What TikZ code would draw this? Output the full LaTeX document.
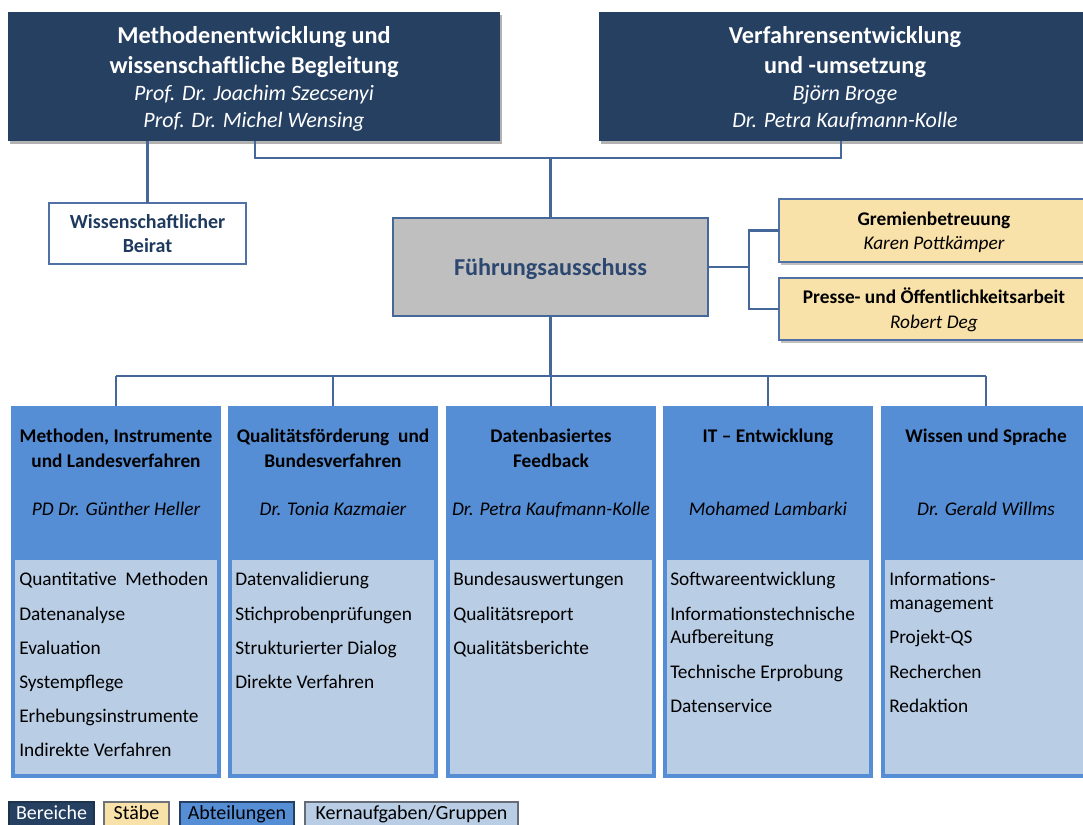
\documentclass[tikz,border=0pt]{standalone}
\usepackage{fontspec}
\setmainfont{Carlito}
\usetikzlibrary{shadows,fit}
\definecolor{navy}{HTML}{264062}
\definecolor{staffy}{HTML}{F9E2A9}
\definecolor{deptblue}{HTML}{558ED5}
\definecolor{listblue}{HTML}{B9CDE5}
\definecolor{fagray}{HTML}{BFBFBF}
\definecolor{linec}{HTML}{46679A}
\definecolor{fatext}{HTML}{2C4770}
\definecolor{beiratc}{HTML}{1F3A5F}
\definecolor{staffb}{HTML}{4F71A6}
\begin{document}
\begin{tikzpicture}[x=0.75pt,y=-0.75pt,
  boxbase/.style={inner sep=0pt, outer sep=0pt, rectangle},
  area/.style={boxbase, fill=navy, drop shadow={shadow xshift=1.5pt, shadow yshift=-2.5pt, fill=black, opacity=0.3}},
  staffbox/.style={boxbase, fill=staffy, draw=staffb, line width=1.1pt, drop shadow={shadow xshift=1.5pt, shadow yshift=-2.5pt, fill=black, opacity=0.25}},
  beiratbox/.style={boxbase, fill=white, draw=staffb, line width=1pt},
  fabox/.style={boxbase, fill=fagray, draw=linec, line width=2.2pt},
  deptbox/.style={boxbase, fill=deptblue},
  listbox/.style={boxbase, fill=listblue},
  conn/.style={draw=linec, line width=1.6pt},
  txt/.style={anchor=base, inner sep=0pt},
  ltxt/.style={anchor=base west, inner sep=0pt, font=\fontsize{14.5}{17}\selectfont},
  ttl/.style={txt, text=white, font=\fontsize{18.2}{22}\selectfont\bfseries},
  tnm/.style={txt, text=white, font=\fontsize{16.5}{20}\selectfont\itshape},
  sttl/.style={txt, font=\fontsize{14.5}{17}\selectfont\bfseries},
  snm/.style={txt, font=\fontsize{14.5}{17}\selectfont\itshape},
  legbox/.style={boxbase, line width=0.8pt},
  legtxt/.style={txt, font=\fontsize{15}{18}\selectfont}
]
\useasboundingbox (0,0) rectangle (1083,825);
\clip (0,0) rectangle (1083,825);

% ---- top areas
\node[area, fit={(8,12)(500,141)}] (mw) {};
\node[ttl] (mwt1) at (254,43) {Methodenentwicklung und};
\node[ttl] (mwt2) at (254,73) {wissenschaftliche Begleitung};
\node[tnm] (mwn1) at (254,100) {Prof. Dr. Joachim Szecsenyi};
\node[tnm] (mwn2) at (254,127) {Prof. Dr. Michel Wensing};

\node[area, fit={(599,12)(1091,141)}] (ve) {};
\node[ttl] (vet1) at (845,43) {Verfahrensentwicklung};
\node[ttl] (vet2) at (845,73) {und -umsetzung};
\node[tnm] (ven1) at (845,100) {Björn Broge};
\node[tnm] (ven2) at (845,127) {Dr. Petra Kaufmann-Kolle};

% ---- Beirat
\node[beiratbox, fit={(49,203)(246,264)}] (beirat) {};
\node[txt, text=beiratc, font=\fontsize{15}{18}\selectfont\bfseries] (bt1) at (147.5,228) {Wissenschaftlicher};
\node[txt, text=beiratc, font=\fontsize{15}{18}\selectfont\bfseries] (bt2) at (147.5,252) {Beirat};

% ---- Fuehrungsausschuss
\node[fabox, fit={(393,218)(708,316)}] (fa) {};
\node[txt, text=fatext, font=\fontsize{18.2}{22}\selectfont\bfseries] (fat) at (550.5,275) {Führungsausschuss};

% ---- Staff
\node[staffbox, fit={(779,199)(1089,262)}] (gr) {};
\node[sttl] (grt) at (934,225) {Gremienbetreuung};
\node[snm] (grn) at (934,249) {Karen Pottkämper};
\node[staffbox, fit={(779,278)(1089,340)}] (pr) {};
\node[sttl] (prt) at (934,303) {Presse- und Öffentlichkeitsarbeit};
\node[snm] (prn) at (934,328) {Robert Deg};

% ---- Departments
\node[deptbox, fit={(11,406)(221,778)}] (d1) {};
\node[listbox, fit={(15,560)(217,774)}] (l1) {};
\node[deptbox, fit={(228,406)(438,778)}] (d2) {};
\node[listbox, fit={(232,560)(434,774)}] (l2) {};
\node[deptbox, fit={(446,406)(656,778)}] (d3) {};
\node[listbox, fit={(450,560)(652,774)}] (l3) {};
\node[deptbox, fit={(663,406)(873,778)}] (d4) {};
\node[listbox, fit={(667,560)(869,774)}] (l4) {};
\node[deptbox, fit={(881,406)(1091,778)}] (d5) {};
\node[listbox, fit={(885,560)(1087,774)}] (l5) {};

% headers
\node[sttl] (h1a) at (116,442) {Methoden, Instrumente};
\node[sttl] (h1b) at (116,467) {und Landesverfahren};
\node[snm] (h1n) at (116,515) {PD Dr. Günther Heller};
\node[sttl] (h2a) at (333,442) {Qualitätsförderung~ und};
\node[sttl] (h2b) at (333,467) {Bundesverfahren};
\node[snm] (h2n) at (333,515) {Dr. Tonia Kazmaier};
\node[sttl] (h3a) at (551,442) {Datenbasiertes};
\node[sttl] (h3b) at (551,467) {Feedback};
\node[snm] (h3n) at (551,515) {Dr. Petra Kaufmann-Kolle};
\node[sttl] (h4a) at (768,442) {IT – Entwicklung};
\node[snm] (h4n) at (768,515) {Mohamed Lambarki};
\node[sttl] (h5a) at (986,442) {Wissen und Sprache};
\node[snm] (h5n) at (986,515) {Dr. Gerald Willms};

% lists
\node[ltxt] (i11) at (19,585) {Quantitative~ Methoden};
\node[ltxt] (i12) at (19,620) {Datenanalyse};
\node[ltxt] (i13) at (19,654) {Evaluation};
\node[ltxt] (i14) at (19,688) {Systempflege};
\node[ltxt] (i15) at (19,722) {Erhebungsinstrumente};
\node[ltxt] (i16) at (19,756) {Indirekte Verfahren};

\node[ltxt] (i21) at (235,585) {Datenvalidierung};
\node[ltxt] (i22) at (235,620) {Stichprobenprüfungen};
\node[ltxt] (i23) at (235,654) {Strukturierter Dialog};
\node[ltxt] (i24) at (235,688) {Direkte Verfahren};

\node[ltxt] (i31) at (453,585) {Bundesauswertungen};
\node[ltxt] (i32) at (453,620) {Qualitätsreport};
\node[ltxt] (i33) at (453,654) {Qualitätsberichte};

\node[ltxt] (i41) at (670,585) {Softwareentwicklung};
\node[ltxt] (i42) at (670,620) {Informationstechnische};
\node[ltxt] (i42b) at (670,643) {Aufbereitung};
\node[ltxt] (i43) at (670,678) {Technische Erprobung};
\node[ltxt] (i44) at (670,712) {Datenservice};

\node[ltxt] (i51) at (889,585) {Informations-};
\node[ltxt] (i51b) at (889,609) {management};
\node[ltxt] (i52) at (889,643) {Projekt-QS};
\node[ltxt] (i53) at (889,678) {Recherchen};
\node[ltxt] (i54) at (889,712) {Redaktion};

% ---- connectors
\coordinate (jL) at (255,158);
\coordinate (jR) at (841,158);
\coordinate (jM) at (550.5,158);
\draw[conn] (mw.south -| jL) -- (jL) -- (jR) -- (ve.south -| jR);
\draw[conn] (jM) -- (fa.north);
\draw[conn] (mw.south -| beirat.north) -- (beirat.north);
\coordinate (sx) at (749,0);
\draw[conn] (fa.east) -- (fa.east -| sx);
\draw[conn] (gr.west) -- (gr.west -| sx) -- (pr.west -| sx) -- (pr.west);
\coordinate (bus) at (0,376);
\draw[conn] (fa.south) -- (fa.south |- bus);
\draw[conn] (d1.north |- bus) -- (d5.north |- bus);
\foreach \d in {d1,d2,d3,d4,d5} {\draw[conn] (\d.north |- bus) -- (\d.north);}

% ---- legend
\node[legbox, fill=navy, draw=navy!80!black, fit={(9,802)(94,835)}] (lg1) {};
\node[legtxt, text=white] (lg1t) at (51.5,819) {Bereiche};
\node[legbox, fill=staffy, draw=gray!80!navy, fit={(104,802)(169,835)}] (lg2) {};
\node[legtxt] (lg2t) at (136.5,819) {Stäbe};
\node[legbox, fill=deptblue, draw=navy, fit={(180,802)(294,835)}] (lg3) {};
\node[legtxt] (lg3t) at (237,819) {Abteilungen};
\node[legbox, fill=listblue, draw=gray!70!navy, fit={(305,802)(518,835)}] (lg4) {};
\node[legtxt] (lg4t) at (411.5,819) {Kernaufgaben/Gruppen};
\end{tikzpicture}
\end{document}
